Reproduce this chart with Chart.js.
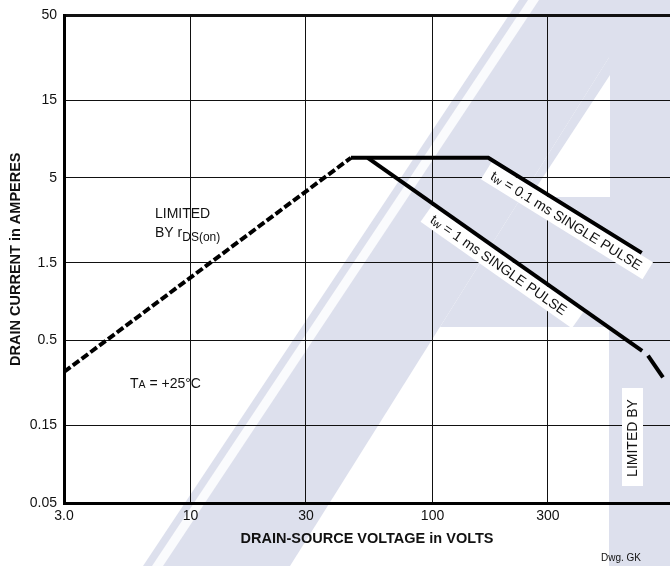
<!DOCTYPE html>
<html>
<head>
<meta charset="utf-8">
<script src="https://cdn.jsdelivr.net/npm/chart.js@4.4.6/dist/chart.umd.min.js"></script>
<style>
  html, body { margin: 0; padding: 0; background: #fff; }
  #wrap { position: relative; width: 670px; height: 566px; }
</style>
</head>
<body>
<div id="wrap"><canvas id="soa"></canvas></div>
<script>
// Safe operating area, log-log.
const voltageTicks = [3, 10, 30, 100, 300]
const voltageTickLabels = ["3.0", "10", "30", "100", "300"]
const currentTicks = [0.05, 0.15, 0.5, 1.5, 5, 15, 50]
const currentTickLabels = ["0.05", "0.15", "0.5", "1.5", "5", "15", "50"]

// limited by rDS(on) (dashed)
const rdsVolts = [3.0, 46]
const rdsAmps = [0.32, 6.65]
// tw = 0.1 ms single pulse
const pulse01Volts = [46, 170, 732]
const pulse01Amps = [6.65, 6.65, 1.73]
// tw = 1 ms single pulse
const pulse1Volts = [54, 735]
const pulse1Amps = [6.65, 0.432]
// limited by breakdown (short dash at the end)
const breakdownVolts = [777, 896]
const breakdownAmps = [0.403, 0.296]

const FONT = '"Liberation Sans", Arial, Helvetica, sans-serif'
const INK = "#111"
const WASH = "#dde0ed"

const points = (xs, ys) => xs.map((x, i) => ({ x, y: ys[i] }))

const line = (xs, ys, extra = {}) => ({
  data: points(xs, ys),
  borderColor: "#000",
  borderWidth: 4,
  borderCapStyle: "butt",
  borderJoinStyle: "miter",
  pointRadius: 0,
  fill: false,
  tension: 0,
  ...extra
})

// faint logo watermark behind the plot
const watermark = {
  id: "watermark",
  beforeDraw(chart) {
    const ctx = chart.ctx
    const poly = (pts, color) => {
      ctx.beginPath()
      pts.forEach(([x, y], i) => (i ? ctx.lineTo(x, y) : ctx.moveTo(x, y)))
      ctx.closePath()
      ctx.fillStyle = color
      ctx.fill()
    }
    ctx.save()
    ctx.fillStyle = "#fff"
    ctx.fillRect(0, 0, chart.width, chart.height)
    poly([[143, 566], [290, 566], [645, 0], [519, 0]], WASH)
    poly([[440, 327], [610, 327], [610, 0], [645, 0]], WASH)
    poly([[609, 0], [670, 0], [670, 566], [609, 566]], WASH)
    poly([[610, 75], [610, 197], [530, 197]], "#fff")
    poly([[152, 566], [163, 566], [539, 0], [528, 0]], "rgba(255,255,255,0.85)")
    ctx.restore()
  }
}

const pulseNotes = [
  { v0: pulse01Volts[1], i0: pulse01Amps[1], v1: pulse01Volts[2], i1: pulse01Amps[2],
    start: 5, length: 190, text: " = 0.1 ms SINGLE PULSE" },
  { v0: pulse1Volts[0], i0: pulse1Amps[0], v1: pulse1Volts[1], i1: pulse1Amps[1],
    start: 80, length: 185, text: " = 1 ms SINGLE PULSE" }
]

const notes = {
  id: "notes",
  beforeDatasetsDraw(chart) {
    const { ctx, scales: { x, y } } = chart
    pulseNotes.forEach((n) => {
      const x0 = x.getPixelForValue(n.v0), y0 = y.getPixelForValue(n.i0)
      const x1 = x.getPixelForValue(n.v1), y1 = y.getPixelForValue(n.i1)
      ctx.save()
      ctx.translate(x0, y0)
      ctx.rotate(Math.atan2(y1 - y0, x1 - x0))
      ctx.fillStyle = "#fff"
      ctx.fillRect(n.start, 2, n.length, 20)
      ctx.fillStyle = INK
      ctx.textBaseline = "alphabetic"
      let tx = n.start + 7
      ctx.font = `14px ${FONT}`
      ctx.fillText("t", tx, 17)
      tx += ctx.measureText("t").width
      ctx.font = `11px ${FONT}`
      ctx.fillText("w", tx, 18)
      tx += ctx.measureText("w").width
      ctx.font = `14px ${FONT}`
      ctx.fillText(n.text, tx, 17)
      ctx.restore()
    })
  },
  afterDatasetsDraw(chart) {
    const ctx = chart.ctx
    ctx.save()
    ctx.fillStyle = INK
    ctx.textBaseline = "alphabetic"
    ctx.textAlign = "left"

    ctx.font = `14px ${FONT}`
    ctx.fillText("LIMITED", 155, 218)
    ctx.fillText("BY r", 155, 237)
    let w = ctx.measureText("BY r").width
    ctx.font = `12px ${FONT}`
    ctx.fillText("DS(on)", 155 + w, 241)

    ctx.font = `14px ${FONT}`
    ctx.fillText("T", 130, 388)
    w = ctx.measureText("T").width
    ctx.font = `10.5px ${FONT}`
    ctx.fillText("A", 130 + w, 388)
    w += ctx.measureText("A").width
    ctx.font = `14px ${FONT}`
    ctx.fillText(" = +25°C", 130 + w, 388)

    ctx.font = `10px ${FONT}`
    ctx.fillText("Dwg. GK", 601, 561)

    ctx.fillStyle = "#fff"
    ctx.fillRect(622, 388, 21, 98)
    ctx.translate(633, 438)
    ctx.rotate(-Math.PI / 2)
    ctx.fillStyle = INK
    ctx.textAlign = "center"
    ctx.textBaseline = "middle"
    ctx.font = `14px ${FONT}`
    ctx.fillText("LIMITED BY", 0, 0)
    ctx.restore()
  }
}

new Chart(document.getElementById("soa"), {
  type: "line",
  data: {
    datasets: [
      line(rdsVolts, rdsAmps, { borderDash: [8, 3] }),
      line(pulse01Volts, pulse01Amps),
      line(pulse1Volts, pulse1Amps),
      line(breakdownVolts, breakdownAmps)
    ]
  },
  options: {
    responsive: true,
    maintainAspectRatio: false,
    animation: false,
    layout: { padding: { top: 10, right: 0, bottom: 0, left: 0 } },
    plugins: { legend: { display: false }, tooltip: { enabled: false } },
    scales: {
      x: {
        type: "logarithmic",
        position: "bottom",
        min: 3,
        max: 958,
        afterBuildTicks: (s) => { s.ticks = voltageTicks.map((value) => ({ value })) },
        afterFit: (s) => { s.height = 63 },
        ticks: {
          callback: (v) => voltageTickLabels[voltageTicks.indexOf(v)] ?? "",
          autoSkip: false,
          maxRotation: 0,
          padding: 5,
          color: INK,
          font: { family: FONT, size: 14 }
        },
        grid: { color: INK, lineWidth: 1, drawTicks: false },
        border: { display: true, color: "#000", width: 3 },
        title: {
          display: true,
          text: "DRAIN-SOURCE VOLTAGE in VOLTS",
          color: INK,
          font: { family: FONT, size: 14.5, weight: "bold" },
          padding: { top: 0, bottom: 18 }
        }
      },
      y: {
        type: "logarithmic",
        min: 0.05,
        max: 50,
        afterBuildTicks: (s) => { s.ticks = currentTicks.map((value) => ({ value })) },
        afterFit: (s) => { s.width = 64 },
        ticks: {
          callback: (v) => currentTickLabels[currentTicks.indexOf(v)] ?? "",
          autoSkip: false,
          padding: 7,
          color: INK,
          font: { family: FONT, size: 14 }
        },
        grid: {
          color: INK,
          lineWidth: (c) => (c.tick && c.tick.value === 50 ? 3 : 1),
          drawTicks: false
        },
        border: { display: true, color: "#000", width: 3 },
        title: {
          display: true,
          text: "DRAIN CURRENT in AMPERES",
          color: INK,
          font: { family: FONT, size: 14.5, weight: "bold" },
          padding: { top: 7, bottom: 0 }
        }
      }
    }
  },
  plugins: [watermark, notes]
})
</script>
</body>
</html>
